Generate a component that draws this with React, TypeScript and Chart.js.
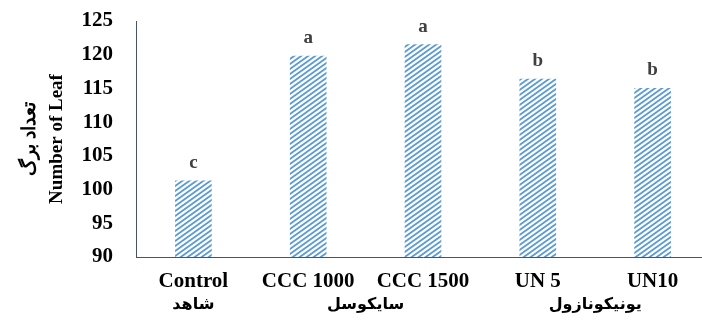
import React, { useEffect, useRef } from 'react';
import { Chart, registerables } from 'chart.js';

Chart.register(...registerables);

const categories = ['Control', 'CCC 1000', 'CCC 1500', 'UN 5', 'UN10'];
const leafCounts = [101.3, 119.8, 121.5, 116.4, 115.0];
const significance = ['c', 'a', 'a', 'b', 'b'];
// group labels on a half-category grid (-0.5, 0, 0.5, ... 4.5)
const groupSlots = ['', 'شاهد', '', '', 'سایکوسل', '', '', '', 'یونیکونازول', '', ''];
const yMin = 90;
const yMax = 125;
const yStep = 5;
const axisTitleLines = ['تعداد برگ', 'Number of Leaf'];

function makeStripePattern(): CanvasPattern | string {
  const w = 7;
  const h = 5;
  const c = document.createElement('canvas');
  c.width = w;
  c.height = h;
  const ctx = c.getContext('2d');
  if (!ctx) return '#5B9BD5';
  const img = ctx.createImageData(w, h);
  const blue = [91, 155, 213];
  const white = [255, 255, 255];
  const ss = 4;
  for (let y = 0; y < h; y++) {
    for (let x = 0; x < w; x++) {
      let cov = 0;
      for (let sy = 0; sy < ss; sy++) {
        for (let sx = 0; sx < ss; sx++) {
          const px = x + (sx + 0.5) / ss;
          const py = y + (sy + 0.5) / ss;
          let t = (py + (px * h) / w) % h;
          if (t < 0) t += h;
          if (t < h * 0.45) cov++;
        }
      }
      const f = cov / (ss * ss);
      const i = (y * w + x) * 4;
      for (let k = 0; k < 3; k++) img.data[i + k] = Math.round(blue[k] * f + white[k] * (1 - f));
      img.data[i + 3] = 255;
    }
  }
  ctx.putImageData(img, 0, 0);
  const main = document.createElement('canvas').getContext('2d');
  const pat = main ? main.createPattern(c, 'repeat') : null;
  return pat || '#5B9BD5';
}

const letterPlugin = {
  id: 'sigLetters',
  afterDatasetsDraw(chart: any) {
    const meta = chart.getDatasetMeta(0);
    const ctx = chart.ctx;
    ctx.save();
    ctx.font = 'bold 19px "Liberation Serif", "Times New Roman", serif';
    ctx.fillStyle = '#404040';
    ctx.textAlign = 'center';
    ctx.textBaseline = 'alphabetic';
    meta.data.forEach((bar: any, i: number) => {
      ctx.fillText(significance[i], bar.x, bar.y - 13);
    });
    ctx.restore();
  },
};

export default function App() {
  const ref = useRef<HTMLCanvasElement>(null);

  useEffect(() => {
    if (!ref.current) return;
    const pattern = makeStripePattern();
    const axisColor = '#44546A';
    const chart = new Chart(ref.current, {
      type: 'bar',
      data: {
        labels: categories,
        datasets: [
          {
            data: leafCounts,
            backgroundColor: pattern as any,
            borderWidth: 0,
            barThickness: 36,
          },
        ],
      },
      options: {
        animation: false,
        responsive: false,
        devicePixelRatio: 1,
        layout: { padding: { top: 21, right: 0, bottom: 0, left: 0 } },
        plugins: {
          legend: { display: false },
          tooltip: { enabled: false },
        },
        scales: {
          y: {
            min: yMin,
            max: yMax,
            ticks: {
              stepSize: yStep,
              padding: 23,
              color: '#000',
              font: { family: '"Liberation Serif", "Times New Roman", serif', size: 21, weight: 'bold' },
            },
            grid: { display: false, drawTicks: false },
            border: { display: true, color: axisColor, width: 1 },
            title: {
              display: true,
              text: axisTitleLines,
              color: '#000',
              font: { family: '"Liberation Serif", "Times New Roman", serif', size: 19, weight: 'bold', lineHeight: 1.4 },
              padding: { top: 17, bottom: 0 },
            },
            afterFit: (s: any) => {
              s.width = 136;
              s.paddingTop = 0;
              s.paddingBottom = 0;
            },
          },
          x: {
            type: 'category',
            offset: true,
            ticks: {
              padding: 12,
              color: '#000',
              maxRotation: 0,
              autoSkip: false,
              font: { family: '"Liberation Serif", "Times New Roman", serif', size: 21, weight: 'bold' },
            },
            grid: { display: false, drawTicks: false },
            border: { display: true, color: axisColor, width: 1 },
            afterFit: (s: any) => {
              s.height = 36;
            },
          },
          x2: {
            type: 'category',
            position: 'bottom',
            labels: groupSlots,
            offset: false,
            ticks: {
              padding: 2,
              color: '#000',
              autoSkip: false,
              maxRotation: 0,
              font: { family: '"DejaVu Sans", sans-serif', size: 16, weight: 'bold' },
            },
            grid: { display: false, drawTicks: false },
            border: { display: false },
            afterFit: (s: any) => {
              s.height = 28;
            },
          },
        },
      },
      plugins: [letterPlugin],
    });
    return () => chart.destroy();
  }, []);

  return (
    <div
      style={{
        position: 'fixed',
        left: 0,
        top: 0,
        width: 702,
        height: 321,
        overflow: 'hidden',
        background: '#fff',
      }}
    >
      <canvas ref={ref} width={712} height={321} style={{ display: 'block' }} />
    </div>
  );
}
